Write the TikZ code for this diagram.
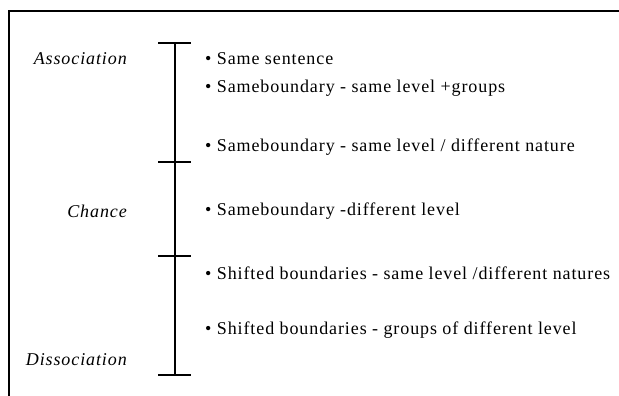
\documentclass[tikz,border=0pt]{standalone}
\usepackage{fontspec}
\setmainfont{Liberation Serif}
\newfontfamily\diagfont[LetterSpace=5]{Liberation Serif}
\begin{document}
\begin{tikzpicture}[x=1pt,y=-1pt,
  frameline/.style={line width=2pt},
  axisline/.style={line width=2.4pt},
  item/.style={anchor=west,inner sep=0pt,font=\diagfont\fontsize{18}{21}\selectfont},
  pole/.style={anchor=east,inner sep=0pt,font=\diagfont\fontsize{18}{21}\selectfont\itshape}]
\useasboundingbox (0,0) rectangle (619,396);
% partial frame
\coordinate (fbl) at (9,396);
\coordinate (ftl) at (9,11);
\coordinate (ftr) at (619,11);
\draw[frameline] (fbl) -- (ftl) -- (ftr);
% axis and ticks
\coordinate (t1) at (175,43);
\coordinate (t2) at (175,162);
\coordinate (t3) at (175,256);
\coordinate (t4) at (175,375);
\draw[axisline] (t1) -- (t4);
\foreach \t in {t1,t2,t3,t4}
  \draw[axisline] ([xshift=-17pt]\t) -- ([xshift=16pt]\t);
% poles
\node[pole] (assoc) at (127,59) {Association};
\node[pole] (chance) at (127,211) {Chance};
\node[pole] (dissoc) at (127,360) {Dissociation};
% items
\node[item] (i1) at (205,59) {• Same sentence};
\node[item] (i2) at (205,88) {• Sameboundary - same level +groups};
\node[item] (i3) at (205,147) {• Sameboundary - same level / different nature};
\node[item] (i4) at (205,211) {• Sameboundary -different level};
\node[item] (i5) at (205,273) {• Shifted boundaries - same level /different natures};
\node[item] (i6) at (205,330) {• Shifted boundaries - groups of different level};
\end{tikzpicture}
\end{document}
